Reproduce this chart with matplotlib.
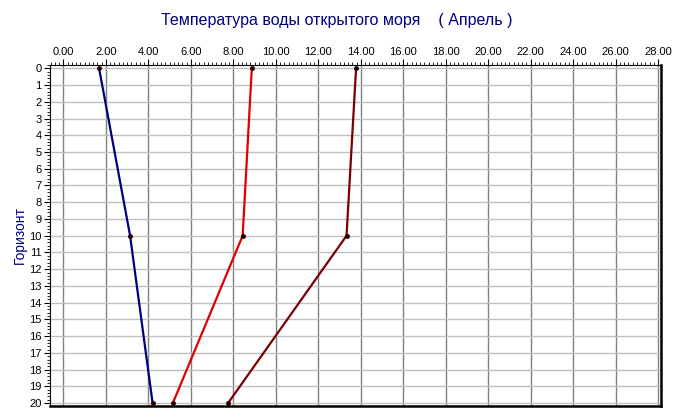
import numpy as np
import matplotlib.pyplot as plt
from matplotlib.ticker import MultipleLocator, FormatStrFormatter

plt.rcParams['font.family'] = ['Liberation Sans', 'DejaVu Sans']

# Горизонты и температуры (апрель)
horizons = [0, 10, 20]
temp_1 = [1.68, 3.14, 4.20]
temp_2 = [8.87, 8.44, 5.15]
temp_3 = [13.78, 13.33, 7.75]

fig = plt.figure(figsize=(6.75, 4.19), dpi=100)
ax = fig.add_axes([0.0741, 0.031, 0.905, 0.814])

ax.plot(temp_1, horizons, color='#000080', lw=1.6, zorder=3)
ax.plot(temp_2, horizons, color='#e00000', lw=1.6, zorder=3)
ax.plot(temp_3, horizons, color='#7a0000', lw=1.6, zorder=3)
for t in (temp_1, temp_2, temp_3):
    ax.plot(t, horizons, 'o', color='#200000', ms=2.5, zorder=4)

ax.set_xlim(-0.63, 28.13)
ax.set_ylim(20.17, -0.2)

ax.xaxis.tick_top()
ax.xaxis.set_major_locator(MultipleLocator(2))
ax.xaxis.set_minor_locator(MultipleLocator(0.2))
ax.xaxis.set_major_formatter(FormatStrFormatter('%.2f'))
ax.yaxis.set_major_locator(MultipleLocator(1))
ax.yaxis.set_minor_locator(MultipleLocator(0.2))

ax.tick_params(axis='both', which='major', labelsize=8, length=4, width=0.8, pad=2)
ax.tick_params(axis='both', which='minor', length=2, width=0.6)

ax.grid(axis='x', which='major', color='#808080', lw=1)
ax.grid(axis='y', which='major', color='#c0c0c0', lw=1)
ax.set_axisbelow(True)

ax.spines['top'].set_linewidth(0.8)
ax.spines['left'].set_linewidth(0.8)
ax.spines['right'].set_linewidth(1.8)
ax.spines['bottom'].set_linewidth(1.8)

ax.set_ylabel('Горизонт', color='#000080', fontsize=10, labelpad=2)
fig.text(0.499, 0.952, 'Температура воды открытого моря    ( Апрель )',
         ha='center', va='center', color='#000080', fontsize=11.5)

fig.savefig('out.png', dpi=100)
